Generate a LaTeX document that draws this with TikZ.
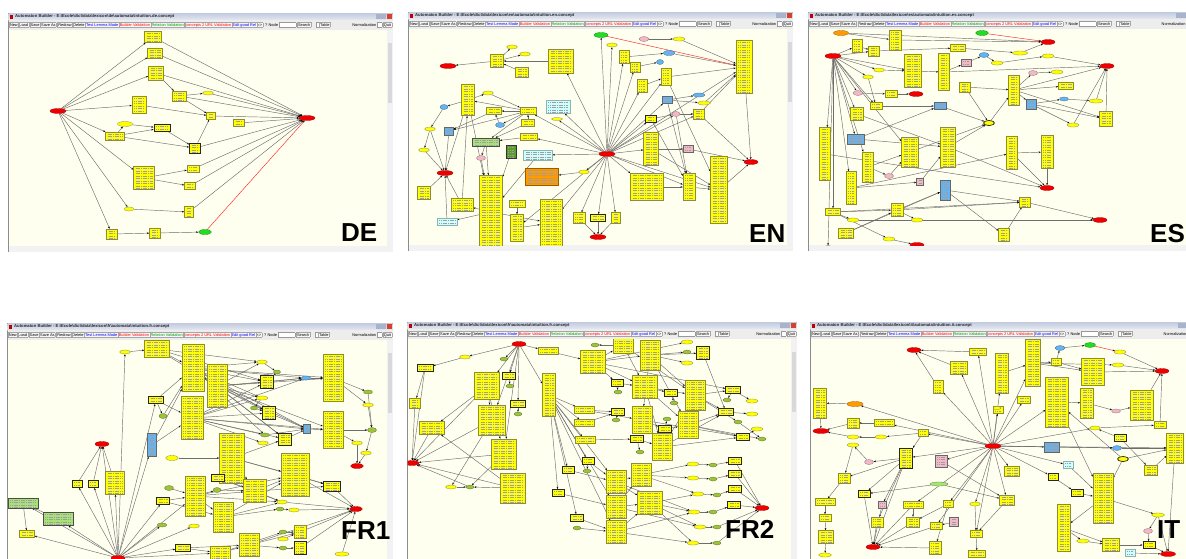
\documentclass[tikz,border=0pt]{standalone}
\usepackage{fontspec}
\setmainfont{Liberation Sans}
\newfontfamily\uifont{Liberation Sans}
\usetikzlibrary{shapes.geometric,arrows.meta,calc}
\pgfdeclarelayer{back}
\pgfdeclarelayer{edges}
\pgfsetlayers{back,edges,main}
\setlength\fboxsep{0.6pt}
\setlength\fboxrule{0.2pt}
\definecolor{canvas}{HTML}{FFFFF0}
\definecolor{ybfill}{HTML}{FFFF00}
\definecolor{ybdraw}{HTML}{8C8C3C}
\definecolor{redf}{HTML}{EE0000}
\definecolor{grnf}{HTML}{22DD22}
\definecolor{olf}{HTML}{9DC23B}
\definecolor{bluf}{HTML}{66B3F0}
\definecolor{pnkf}{HTML}{F2B8C6}
\definecolor{orf}{HTML}{FF9A00}
\definecolor{cyf}{HTML}{CCFFFF}
\definecolor{lgf}{HTML}{A8E276}
\definecolor{dgf}{HTML}{5E9C2E}
\definecolor{tbtop}{HTML}{C4CCE0}
\definecolor{tbbot}{HTML}{E4E8F0}
\definecolor{tool}{HTML}{EDEDED}
\definecolor{sbar}{HTML}{F2F2F2}
\definecolor{btnc}{HTML}{A8B4CC}
\definecolor{closec}{HTML}{D8402C}
\definecolor{edgec}{HTML}{6E6E6E}
\newcommand\ttlfont{\uifont\bfseries\fontsize{4.2}{4.5}\selectfont}
\newcommand\tbfont{\uifont\fontsize{3.9}{4.2}\selectfont}
\newcommand\biglab{\uifont\bfseries\fontsize{26}{26}\selectfont}
\newcommand\bs{\textbackslash{}}
\newcommand\tb[1]{\fcolorbox{black!35}{black!3}{\rule[-0.7pt]{0pt}{3.5pt}#1}}
\newcommand\fld[1]{\fcolorbox{black!40}{white}{\rule[-0.7pt]{0pt}{3.5pt}\hspace{#1}}}
\newcommand\rfull{Normalization\,\fld{4pt}\,\tb{Quit}}
\newcommand\rcut{Normalization\,\fld{4pt}\hspace{16pt}}
\tikzset{
  txt/.style={path picture={
    \foreach \k in {0,...,28}{
      \draw[black!38, line width=0.32pt, dash pattern=on 1.3pt off 0.45pt]
        ($(path picture bounding box.north west)+(2pt,-1.8pt-\k*2.5pt)$) --
        ($(path picture bounding box.north east)+(-2pt,-1.8pt-\k*2.5pt)$);
    }}},
  ybox/.style={rectangle, draw=ybdraw, fill=ybfill, line width=0.45pt, inner sep=0pt, txt},
  tbox/.style={ybox, draw=black!85, line width=0.8pt},
  bbox/.style={ybox, fill=bluf, draw=black!60},
  pbox/.style={ybox, fill=pnkf, draw=black!60},
  cbox/.style={ybox, fill=cyf, draw=cyf!70!black, line width=0.3pt},
  gbox/.style={ybox, fill=lgf, draw=black!70, line width=0.6pt},
  dgbox/.style={ybox, fill=dgf, draw=black!80, line width=0.7pt},
  obox/.style={ybox, fill=orf, draw=orf!60!black},
  rel/.style={ellipse, fill=redf, draw=redf!70!black, line width=0.3pt, inner sep=0pt},
  yel/.style={rel, fill=ybfill, draw=ybdraw},
  tyel/.style={yel, draw=black, line width=0.6pt},
  gel/.style={rel, fill=olf, draw=olf!60!black},
  grel/.style={rel, fill=grnf, draw=grnf!60!black},
  bel/.style={rel, fill=bluf, draw=bluf!60!black},
  pel/.style={rel, fill=pnkf, draw=pnkf!60!black},
  oel/.style={rel, fill=orf, draw=orf!60!black},
  lgel/.style={rel, fill=lgf, draw=lgf!60!black},
  ed/.style={draw=edgec, line width=0.45pt, -{Stealth[length=2.3pt,width=1.7pt,black]}},
  redge/.style={ed, draw=red!85},
  biglabel/.style={font=\biglab, anchor=base west, inner sep=0pt, text=black},
}
\newcommand\N[6]{\node[#1,minimum width=#5pt,minimum height=#6pt] (#2) at (#3,#4) {};}
\newcommand\panel[6]{%
  \begin{pgfonlayer}{back}
  \fill[black!45] (#1,#2) rectangle (#3,#4);
  \shade[top color=tbtop, bottom color=tbbot] (#1+0.5,#2+0.5) rectangle (#3-0.5,#2+7);
  \fill[red!75!black] (#1+1.5,#2+1.8) rectangle (#1+5,#2+5.5);
  \node[anchor=west, inner sep=0pt, font=\ttlfont, text=black!85] at (#1+7,#2+3.8) {Automaton Builder - #5};
  \fill[btnc] (#3-17.5,#2+1.2) rectangle (#3-12.5,#2+6.2);
  \fill[btnc] (#3-12,#2+1.2) rectangle (#3-7,#2+6.2);
  \fill[closec] (#3-6.5,#2+1.2) rectangle (#3-1.5,#2+6.2);
  \fill[tool] (#1+0.5,#2+7) rectangle (#3-0.5,#2+17);
  \node[anchor=west, inner sep=0pt, font=\tbfont] at (#1+1,#2+12) {\tb{New}\tb{Load}\hspace{1pt}\tb{Save}\tb{Save As}\hspace{1pt}\tb{Redraw}\tb{Delete}\tb{\color{blue}Test Lemma Mode}\tb{\color{red}Builder Validation}\tb{\color{green!60!black}Relation Validation}\tb{\color{red}concepts 2 URL Validation}\tb{\color{blue}Edit good Rel}\tb{<>}\hspace{2pt}? Node\,\fld{16pt}\hspace{1pt}\tb{Search}\hspace{5pt}\fld{1pt}\,\tb{Table}};
  \node[anchor=east, inner sep=0pt, font=\tbfont] at (#3-1,#2+12) {#6};
  \fill[canvas] (#1+0.5,#2+17) rectangle (#3-6,#4-6);
  \fill[sbar] (#3-6,#2+17) rectangle (#3-0.5,#4-0.5);
  \fill[sbar] (#1+0.5,#4-6) rectangle (#3-0.5,#4-0.5);
  \fill[black!15] (#3-5.5,#2+30) rectangle (#3-1,#2+90);
  \end{pgfonlayer}}
\newcommand\cclip[4]{\clip (#1+0.5,#2+17) rectangle (#3-6,#4-6);}
\begin{document}
\begin{tikzpicture}[x=1pt,y=-1pt]
\useasboundingbox (0,0) rectangle (1186,558);
\clip (0,0) rectangle (1186,558);
\begin{pgfonlayer}{back}\fill[white] (0,0) rectangle (1186,558);\end{pgfonlayer}

%%%%%%%%%%%%%%%% DE
\panel{8}{13}{393}{252}{E:\bs Ecole\bs dict\bs data\bs lexicon\bs de\bs automata\bs intuition.de.concept}{\rfull}
\begin{scope}\cclip{8}{13}{393}{252}
\N{rel}{dL}{58}{111}{16}{5}
\N{rel}{dR}{307}{118}{16}{5}
\N{grel}{dG}{205}{232}{13}{5}
\N{ybox}{d1}{153}{37}{17}{11}
\N{ybox}{d2}{155}{53}{15}{10}
\N{ybox}{d3}{156}{73}{15}{14}
\N{ybox}{d4}{179}{96}{14}{10}
\N{ybox}{d5}{139}{105}{14}{17}
\N{ybox}{d6}{211}{116}{9}{7}
\N{ybox}{d7}{239}{123}{11}{7}
\N{tbox}{d8}{162}{128}{16}{7}
\N{ybox}{d9}{115}{136}{19}{8}
\N{tbox}{d10}{195}{148}{11}{10}
\N{ybox}{d11}{144}{178}{21}{23}
\N{ybox}{d12}{193}{169}{12}{7}
\N{ybox}{d13}{190}{186}{11}{7}
\N{ybox}{d14}{189}{212}{9}{11}
\N{ybox}{d15}{112}{234}{11}{10}
\N{ybox}{d16}{155}{233}{11}{10}
\N{yel}{de1}{208}{93}{11}{4}
\N{yel}{de2}{125}{124}{15}{5}
\N{yel}{de3}{129}{209}{10}{4}
\end{scope}
\begin{pgfonlayer}{edges}\begin{scope}\cclip{8}{13}{393}{252}
\foreach \a/\b in {dL/d1,dL/d2,dL/d3,dL/d5,dL/d9,dL/d11,dL/de3,dL/d15,d1/dR,d2/dR,d3/dR,d4/dR,de1/dR,d6/dR,d7/dR,d10/dR,d12/dR,d13/dR,d14/dR,d3/d4,d4/de1,d4/d6,d5/d6,d9/de2,de2/d8,d9/d8,d9/d10,d8/d10,d10/d6,d11/d12,d11/d13,de3/d14,d15/d16,d16/dG}
  \draw[ed] (\a) -- (\b);
\draw[redge] (dG) -- (dR);
\end{scope}\end{pgfonlayer}
\node[biglabel] (labDE) at (341,241) {DE};

%%%%%%%%%%%%%%%% EN
\panel{408}{12}{793}{251}{E:\bs Ecole\bs dict\bs data\bs lexicon\bs en\bs automata\bs intuition.en.concept}{\rfull}
\begin{scope}\cclip{408}{12}{793}{251}
\N{rel}{nC}{607}{154}{16}{5}
\N{grel}{nG}{601}{35}{14}{5}
\N{rel}{nRL}{448}{66}{16}{5}
\N{rel}{nRM}{445}{173}{16}{5}
\N{rel}{nRB}{598}{237}{16}{5}
\N{rel}{nRR}{751}{162}{14}{5}
\N{ybox}{n1}{561}{61}{25}{24}
\N{ybox}{n2}{497}{61}{13}{13}
\N{ybox}{n3}{522}{72}{13}{10}
\N{yel}{ne1}{512}{47}{11}{4}
\N{yel}{ne2}{525}{54}{11}{4}
\N{ybox}{n4}{468}{100}{13}{31}
\N{yel}{ne3}{488}{93}{11}{4}
\N{bel}{ne4}{444}{107}{8}{5}
\N{yel}{ne5}{430}{129}{11}{4}
\N{bbox}{n5}{449}{131}{9}{8}
\N{yel}{ne6}{424}{150}{11}{4}
\N{ybox}{n6}{494}{111}{15}{7}
\N{ybox}{n7}{528}{111}{16}{7}
\N{ybox}{n8}{528}{123}{13}{7}
\N{bel}{ne7}{500}{125}{9}{5}
\N{cbox}{n9}{558}{107}{24}{13}
\N{yel}{ne8}{557}{119}{11}{3}
\N{gbox}{n10}{486}{142}{27}{8}
\N{dgbox}{n11}{511}{152}{10}{13}
\N{ybox}{n12}{529}{137}{17}{7}
\N{pel}{ne9}{481}{158}{9}{5}
\N{cbox}{n13}{538}{155}{29}{10}
\N{obox}{n14}{542}{177}{33}{17}
\N{yel}{ne10}{584}{172}{11}{4}
\N{ybox}{n15}{491}{212}{23}{73}
\N{ybox}{n16}{424}{193}{13}{13}
\N{ybox}{n17}{462}{205}{22}{13}
\N{cbox}{n18}{447}{222}{20}{7}
\N{ybox}{n19}{517}{204}{16}{7}
\N{ybox}{n20}{517}{228}{13}{27}
\N{ybox}{n21}{551}{223}{22}{47}
\N{ybox}{n22}{579}{218}{12}{11}
\N{tbox}{n23}{598}{218}{15}{7}
\N{ybox}{n24}{616}{218}{9}{11}
\N{ybox}{n25}{624}{57}{10}{13}
\N{yel}{ne11}{612}{45}{11}{4}
\N{ybox}{n26}{635}{67}{10}{10}
\N{bel}{ne12}{669}{53}{12}{5}
\N{bel}{ne13}{660}{62}{7}{5}
\N{pel}{ne14}{644}{39}{10}{5}
\N{yel}{ne15}{679}{39}{12}{4}
\N{ybox}{n27}{744}{67}{16}{53}
\N{ybox}{n28}{642}{86}{10}{13}
\N{ybox}{n29}{666}{77}{10}{17}
\N{bbox}{n30}{667}{100}{10}{7}
\N{bel}{ne16}{699}{95}{12}{4}
\N{yel}{ne17}{704}{103}{13}{4}
\N{ybox}{n31}{699}{114}{11}{10}
\N{pel}{ne18}{676}{114}{8}{5}
\N{tbox}{n32}{651}{119}{11}{7}
\N{ybox}{n33}{651}{149}{15}{33}
\N{pbox}{n34}{688}{149}{10}{7}
\N{ybox}{n35}{647}{187}{33}{27}
\N{ybox}{n36}{689}{187}{12}{27}
\N{ybox}{n37}{719}{190}{17}{67}
\end{scope}
\begin{pgfonlayer}{edges}\begin{scope}\cclip{408}{12}{793}{251}
\foreach \a/\b in {nC/n1,nC/ne11,nC/n25,nC/n26,nC/n28,nC/n29,nC/n30,nC/n32,nC/n33,nC/n35,nC/n36,nC/n37,nC/n22,nC/n23,nC/n24,nC/n21,nC/ne10,nC/n13,nC/n12,nC/n7,nC/ne8,nC/n9,nC/n20,nC/ne18,nC/n31,nC/n27,nC/nG,
ne14/ne15,ne15/n27,n25/ne12,n26/ne13,n28/n29,n29/n27,n30/ne16,n30/ne17,ne17/n27,n31/n27,ne18/n31,n32/ne18,n33/n34,n35/n36,n36/n37,n37/nRR,n31/nRR,ne18/n36,n32/n36,n27/nRR,n33/n37,n29/n37,n30/n36,ne12/n27,n34/nRR,
n1/n2,n2/nRL,n2/ne1,n2/ne2,n3/n2,n4/ne4,ne4/ne5,ne5/ne6,ne6/nRM,ne5/nRM,n5/nRM,n4/nRM,n4/ne3,ne3/n7,n7/n6,n7/n10,n8/n10,n7/n4,n12/n10,n10/n15,n11/n15,ne9/n15,n13/n15,n10/ne9,n16/nRM,n17/nRM,n18/nRM,n15/n18,n15/n17,n19/n20,n15/n21,n20/n21,ne10/n14,n22/nRB,n23/nRB,n24/nRB,ne7/n6,n6/n5,n7/n5,n7/ne7,n8/n7,n4/n15,n17/n4}
  \draw[ed] (\a) -- (\b);
\draw[redge] (nG) -- (n27);
\end{scope}\end{pgfonlayer}
\node[biglabel] (labEN) at (749,242) {EN};

%%%%%%%%%%%%%%%% ES
\panel{808}{12}{1193}{251}{E:\bs Ecole\bs dict\bs data\bs lexicon\bs es\bs automata\bs intuition.es.concept}{\rcut}
\begin{scope}\cclip{808}{12}{1193}{251}
\N{oel}{sO}{841}{33}{15}{5}
\N{rel}{sS}{833}{56}{16}{5}
\N{grel}{sG}{982}{33}{13}{5}
\N{rel}{sR1}{1048}{42}{14}{5}
\N{rel}{sR2}{1107}{66}{14}{5}
\N{rel}{sR3}{916}{94}{14}{5}
\N{rel}{sR4}{1047}{188}{14}{5}
\N{rel}{sR5}{1100}{220}{14}{5}
\N{rel}{sR6}{917}{245}{14}{5}
\N{ybox}{s1}{895}{40}{12}{20}
\N{ybox}{s2}{857}{46}{10}{13}
\N{ybox}{s3}{874}{51}{11}{10}
\N{ybox}{s4}{958}{48}{15}{7}
\N{ybox}{s5}{913}{71}{17}{33}
\N{ybox}{s6}{944}{72}{11}{37}
\N{pbox}{s7}{966}{63}{10}{7}
\N{ybox}{s8}{965}{87}{11}{10}
\N{ybox}{s9}{1014}{90}{11}{30}
\N{bbox}{s10}{1031}{104}{10}{10}
\N{ybox}{s11}{1066}{86}{15}{7}
\N{ybox}{s12}{1106}{119}{13}{15}
\N{ybox}{s13}{891}{94}{12}{7}
\N{ybox}{s14}{876}{106}{12}{7}
\N{ybox}{s15}{857}{114}{13}{13}
\N{bbox}{s16}{940}{106}{12}{7}
\N{bbox}{s17}{856}{139}{17}{10}
\N{ybox}{s18}{825}{154}{11}{53}
\N{ybox}{s19}{868}{167}{11}{30}
\N{ybox}{s20}{910}{152}{17}{30}
\N{ybox}{s21}{948}{147}{15}{40}
\N{ybox}{s22}{1012}{153}{11}{33}
\N{ybox}{s23}{1047}{152}{12}{33}
\N{ybox}{s24}{851}{188}{10}{33}
\N{pbox}{s25}{920}{182}{7}{7}
\N{bbox}{s26}{945}{190}{10}{20}
\N{ybox}{s27}{833}{212}{15}{7}
\N{ybox}{s28}{897}{210}{12}{13}
\N{ybox}{s29}{1025}{202}{11}{10}
\N{ybox}{s30}{1004}{235}{11}{13}
\N{ybox}{s31}{846}{233}{15}{10}
\N{yel}{se1}{879}{70}{11}{4}
\N{yel}{se2}{868}{77}{11}{4}
\N{pel}{se3}{858}{93}{10}{5}
\N{bel}{se4}{984}{55}{10}{5}
\N{yel}{se5}{997}{63}{12}{4}
\N{yel}{se6}{1020}{53}{15}{4}
\N{yel}{se7}{1048}{56}{12}{4}
\N{pel}{se8}{1033}{73}{9}{5}
\N{yel}{se9}{1057}{72}{12}{4}
\N{bel}{se10}{1064}{99}{9}{4}
\N{yel}{se11}{1096}{101}{14}{4}
\N{tyel}{se12}{989}{123}{11}{5}
\N{yel}{se13}{1073}{125}{12}{4}
\N{pel}{se14}{889}{176}{9}{5}
\N{yel}{se15}{853}{220}{12}{4}
\N{yel}{se16}{917}{220}{12}{4}
\N{yel}{se17}{889}{239}{12}{4}
\N{pel}{se18}{828}{248}{9}{5}
\end{scope}
\begin{pgfonlayer}{edges}\begin{scope}\cclip{808}{12}{1193}{251}
\foreach \a/\b in {sS/s2,sS/s3,sS/se1,sS/se2,sS/se3,sS/s5,sS/s14,sS/s15,sS/s17,sS/s18,sS/s19,sS/s24,sS/s27,sS/s20,sS/se18,sO/sR1,sO/s1,s1/sR1,s3/s4,s4/se6,se6/sR1,s5/s6,s6/s7,s7/se4,se4/se5,se5/se7,se7/sR2,s6/sR2,s9/sR2,s8/s9,s9/se8,se8/se9,s9/s11,s9/s10,s10/se10,se10/se11,se11/sR2,s12/sR2,s10/s12,s10/se13,se13/sR2,s9/s12,se1/s5,se2/s14,se3/s13,s13/sR3,s14/s16,s16/se12,s20/se12,se12/s9,s8/se12,s17/s16,s17/s21,s21/se12,s15/s21,s21/sR4,s19/s20,s19/se14,se14/s20,s22/s23,s23/sR4,s22/sR4,s24/s22,s18/sR4,s26/s29,s26/s30,s27/s28,s27/s29,s28/s29,s28/s26,s27/se15,se15/sR5,s29/sR5,s30/s29,s31/s26,s28/se16,se16/sR5,se17/sR6,s27/se17,s31/s28,s2/s3,s24/s25,s25/s21}
  \draw[ed] (\a) -- (\b);
\draw[redge] (sG) -- (sR1);
\end{scope}\end{pgfonlayer}
\node[biglabel] (labES) at (1150,242) {ES};

%%%%%%%%%%%%%%%% FR1
\panel{7}{323}{393}{565}{E:\bs Ecole\bs dict\bs data\bs lexicon\bs fr\bs automata\bs intuition.fr.concept}{\rfull}
\begin{scope}\cclip{7}{323}{393}{565}
\N{rel}{fR1}{102}{444}{14}{5}
\N{rel}{fR2}{357}{466}{13}{5}
\N{rel}{fR3}{356}{509}{13}{5}
\N{rel}{fR4}{118}{558}{14}{5}
\N{yel}{fe0}{125}{352}{11}{4}
\N{ybox}{f1}{157}{349}{25}{17}
\N{ybox}{f2}{193}{368}{22}{47}
\N{ybox}{f3}{217}{386}{20}{43}
\N{ybox}{f4}{192}{418}{22}{43}
\N{tbox}{f5}{156}{400}{15}{7}
\N{tbox}{f6}{267}{382}{13}{13}
\N{tbox}{f7}{269}{413}{13}{13}
\N{bbox}{f8}{307}{429}{7}{9}
\N{ybox}{f9}{333}{378}{20}{47}
\N{ybox}{f10}{333}{430}{20}{37}
\N{bbox}{f11}{152}{445}{9}{23}
\N{ybox}{f12}{232}{458}{25}{50}
\N{ybox}{f13}{295}{475}{28}{43}
\N{tbox}{f14}{285}{439}{13}{12}
\N{ybox}{f15}{195}{496}{20}{40}
\N{tbox}{f16}{218}{478}{13}{7}
\N{ybox}{f17}{255}{491}{23}{23}
\N{ybox}{f18}{223}{517}{20}{30}
\N{ybox}{f19}{115}{483}{19}{23}
\N{tbox}{f20}{77}{484}{10}{7}
\N{tbox}{f21}{93}{484}{10}{7}
\N{tbox}{f22}{163}{501}{13}{7}
\N{tbox}{f23}{332}{486}{17}{10}
\N{gbox}{f24}{23}{503}{30}{10}
\N{gbox}{f25}{58}{519}{30}{13}
\N{ybox}{f26}{27}{534}{15}{7}
\N{tbox}{f27}{183}{548}{15}{7}
\N{ybox}{f28}{220}{553}{20}{13}
\N{ybox}{f29}{249}{545}{20}{23}
\N{ybox}{f30}{300}{532}{12}{13}
\N{tbox}{f31}{300}{548}{12}{13}
\N{yel}{fe1}{262}{362}{11}{4}
\N{gel}{fe2}{277}{372}{7}{4}
\N{bel}{fe3}{306}{378}{10}{4}
\N{gel}{fe4}{163}{416}{8}{5}
\N{yel}{fe5}{262}{398}{12}{4}
\N{gel}{fe6}{254}{408}{7}{4}
\N{gel}{fe7}{265}{435}{9}{4}
\N{yel}{fe8}{263}{443}{11}{4}
\N{gel}{fe9}{368}{392}{9}{4}
\N{yel}{fe10}{368}{405}{11}{4}
\N{gel}{fe11}{372}{430}{9}{5}
\N{yel}{fe12}{357}{443}{11}{4}
\N{yel}{fe13}{366}{453}{11}{4}
\N{yel}{fe14}{172}{458}{13}{5}
\N{gel}{fe15}{169}{488}{9}{5}
\N{gel}{fe16}{217}{490}{8}{5}
\N{yel}{fe17}{282}{502}{11}{4}
\N{gel}{fe18}{280}{509}{8}{4}
\N{yel}{fe19}{294}{510}{11}{4}
\N{gel}{fe20}{162}{525}{10}{4}
\N{yel}{fe21}{194}{526}{11}{4}
\N{gel}{fe22}{283}{532}{8}{4}
\N{yel}{fe23}{283}{539}{11}{4}
\N{gel}{fe24}{283}{548}{8}{4}
\N{yel}{fe25}{342}{554}{14}{4}
\end{scope}
\begin{pgfonlayer}{edges}\begin{scope}\cclip{7}{323}{393}{565}
\foreach \a/\b in {fR4/fe0,fR4/f19,fR4/f11,fR4/f5,fR4/f20,fR4/f21,fR4/f22,fR4/fe20,fR4/fe21,fR4/f27,fR4/f25,fR4/f26,fR4/fR1,fR4/f15,fR4/f28,fR4/f24,f20/fR1,f21/fR1,f19/fR1,fe0/f1,f1/f2,f1/f3,f2/fe1,f2/f6,f2/fe5,f2/f7,f3/f6,f3/f7,f3/fe3,f4/f7,f4/f14,f4/fe7,f4/fe8,f4/f8,f5/f2,f5/f4,f5/fe4,fe4/f2,f11/f4,f11/f2,f6/fe3,fe1/fe2,fe2/f6,fe5/fe6,fe6/f7,fe3/f9,f9/fe9,f9/fe10,fe9/fe11,fe10/fe11,f10/fe11,f10/fe12,fe12/fR2,fe13/fR2,fe11/fe13,f8/f10,f14/f8,fe7/f8,f7/f8,fe14/f12,f12/f16,f12/f17,f13/fR3,f23/fR3,f15/fe16,fe16/f17,f16/f17,f17/f13,fe15/f15,f22/f15,f15/f18,f18/fe18,fe18/fe19,fe19/fR3,f17/fe17,fe17/fR3,f29/fR3,f30/fR3,f31/fR3,fe22/f30,fe23/f30,fe24/f31,f28/f29,f27/f28,fe25/fR3,f24/f26,f25/f24,f13/f23,f2/f8,f3/f8,f2/f14,f4/fe5,f15/f13,f18/fe17,f2/f9,f3/f9,f2/fe3,f3/fe1,f3/fe5,f4/fe3,f4/f6,f2/fe7,f3/f14,f12/f23,f12/f13,f15/f17,f18/f13,f15/fe17,f22/f18,f1/fe1,f1/f6,f3/f10,f4/f10,f12/f14,f16/fe17,f17/f23,f28/fe22,f29/f30,f29/fe24,f27/f29}
  \draw[ed] (\a) -- (\b);
\end{scope}\end{pgfonlayer}
\node[biglabel] (labFRa) at (341,539) {FR1};

%%%%%%%%%%%%%%%% FR2
\panel{407}{322}{797}{565}{E:\bs Ecole\bs dict\bs data\bs lexicon\bs fr\bs automata\bs intuition.fr.concept}{\rfull}
\begin{scope}\cclip{407}{322}{797}{565}
\N{rel}{rR1}{519}{344}{14}{5}
\N{rel}{rR2}{412}{463}{14}{5}
\N{rel}{rR3}{762}{508}{14}{5}
\N{tbox}{r1}{425}{368}{16}{7}
\N{tbox}{r2}{509}{376}{13}{7}
\N{ybox}{r3}{487}{386}{25}{27}
\N{ybox}{r4}{415}{403}{11}{10}
\N{ybox}{r5}{492}{420}{27}{30}
\N{tbox}{r6}{518}{404}{15}{7}
\N{ybox}{r7}{432}{428}{25}{13}
\N{ybox}{r8}{504}{454}{25}{30}
\N{ybox}{r9}{513}{488}{25}{30}
\N{ybox}{r10}{549}{395}{13}{43}
\N{ybox}{r11}{548}{351}{20}{7}
\N{ybox}{r12}{593}{362}{25}{23}
\N{ybox}{r13}{623}{345}{20}{17}
\N{ybox}{r14}{650}{355}{20}{30}
\N{tbox}{r15}{703}{353}{13}{13}
\N{tbox}{r16}{617}{383}{12}{7}
\N{ybox}{r17}{645}{387}{25}{23}
\N{tbox}{r18}{671}{393}{13}{7}
\N{ybox}{r19}{695}{395}{20}{30}
\N{tbox}{r20}{733}{390}{15}{7}
\N{ybox}{r21}{584}{410}{20}{7}
\N{tbox}{r22}{618}{412}{13}{7}
\N{ybox}{r23}{642}{420}{20}{27}
\N{tbox}{r24}{665}{429}{13}{7}
\N{ybox}{r25}{688}{425}{20}{27}
\N{tbox}{r26}{726}{412}{15}{7}
\N{ybox}{r27}{584}{423}{20}{7}
\N{ybox}{r28}{585}{440}{20}{7}
\N{tbox}{r29}{637}{439}{13}{7}
\N{ybox}{r30}{662}{447}{20}{27}
\N{tbox}{r31}{743}{437}{13}{7}
\N{tbox}{r32}{588}{461}{12}{7}
\N{tbox}{r33}{568}{470}{12}{7}
\N{ybox}{r34}{616}{482}{20}{23}
\N{ybox}{r35}{641}{475}{20}{23}
\N{tbox}{r36}{558}{493}{12}{7}
\N{ybox}{r37}{616}{507}{20}{23}
\N{ybox}{r38}{650}{503}{25}{23}
\N{ybox}{r39}{616}{532}{20}{23}
\N{tbox}{r40}{577}{518}{13}{7}
\N{tbox}{r41}{735}{461}{13}{7}
\N{tbox}{r42}{735}{474}{13}{7}
\N{tbox}{r43}{735}{489}{13}{7}
\N{tbox}{r44}{734}{505}{13}{7}
\N{yel}{re1}{465}{357}{11}{4}
\N{gel}{re2}{504}{359}{8}{4}
\N{gel}{re3}{510}{386}{8}{4}
\N{gel}{re4}{518}{414}{8}{4}
\N{yel}{re5}{451}{487}{11}{4}
\N{gel}{re6}{470}{487}{8}{4}
\N{gel}{re7}{595}{345}{8}{4}
\N{yel}{re8}{687}{342}{12}{4}
\N{gel}{re9}{687}{352}{8}{4}
\N{yel}{re10}{687}{363}{12}{4}
\N{gel}{re11}{618}{392}{8}{4}
\N{gel}{re12}{674}{403}{8}{4}
\N{gel}{re13}{727}{400}{8}{4}
\N{yel}{re14}{752}{401}{12}{4}
\N{yel}{re15}{752}{414}{12}{4}
\N{gel}{re16}{738}{422}{8}{4}
\N{yel}{re17}{757}{429}{12}{4}
\N{gel}{re18}{762}{439}{8}{4}
\N{gel}{re19}{667}{419}{8}{4}
\N{gel}{re20}{616}{420}{8}{4}
\N{gel}{re21}{640}{452}{8}{4}
\N{gel}{re22}{587}{471}{8}{4}
\N{yel}{re23}{693}{464}{12}{4}
\N{gel}{re24}{713}{465}{8}{4}
\N{yel}{re25}{693}{478}{12}{4}
\N{gel}{re26}{713}{479}{8}{4}
\N{yel}{re27}{698}{494}{12}{4}
\N{gel}{re28}{717}{495}{8}{4}
\N{yel}{re29}{694}{512}{12}{4}
\N{gel}{re30}{713}{512}{8}{4}
\N{yel}{re31}{700}{527}{12}{4}
\N{gel}{re32}{717}{527}{8}{4}
\N{yel}{re33}{693}{543}{12}{4}
\N{gel}{re34}{717}{543}{8}{4}
\N{gel}{re35}{577}{528}{8}{4}
\end{scope}
\begin{pgfonlayer}{edges}\begin{scope}\cclip{407}{322}{797}{565}
\foreach \a/\b in {rR1/re1,rR1/re2,rR1/r2,rR1/r6,rR1/r10,rR1/r11,rR1/r3,rR1/r5,re1/r1,r1/r4,r3/r7,r3/r5,r2/re3,r6/re4,r5/rR2,r4/rR2,r7/rR2,r8/rR2,r9/re6,re5/re6,re6/rR2,r8/re6,r9/r7,r10/r21,r10/r27,r10/r28,r10/r32,r10/r33,r10/r36,r10/r40,r11/r12,r12/r13,r12/r14,r12/re8,r13/re7,r14/r15,r14/re9,r14/re10,r16/r17,r17/r18,r17/r19,r19/r20,r20/re14,r21/r22,r21/r23,r23/r24,r24/r25,r25/r26,r26/re15,r27/r22,r28/r29,r29/r30,r30/r31,r31/re17,re16/re18,r32/r34,r33/r34,r34/r35,r35/re23,r35/re25,re23/re24,re25/re26,re24/r41,re26/r42,r36/r37,r37/r38,r38/re27,r38/re29,r38/re31,r38/re33,re27/re28,re28/r43,re29/re30,re30/r44,r44/rR3,r43/rR3,r42/rR3,r41/rR3,re32/rR3,re34/rR3,r39/r38,r40/r39,re35/r39,re31/re32,re33/re34,r12/r17,r14/r23,r19/r30,r17/r25,r13/r19,r16/re11,r18/re12,r20/re13,r24/re19,r22/re20,r29/re21,r32/re22,r19/re16,r25/re18,r23/r30,r12/r16,r15/r26,r37/r35,r34/r38,r39/re33,r9/rR2,r3/rR2,r3/r8,rR1/r8,r10/r34,r10/r37,r10/r39,r12/r20,r14/r19,r13/r17,r19/r26,r23/r31,r25/r31,r30/r26,r35/re27,r34/re29,r37/re31,r39/re29,r14/r25,r17/r30,r1/rR2,r5/re5}
  \draw[ed] (\a) -- (\b);
\end{scope}\end{pgfonlayer}
\node[biglabel] (labFRb) at (725,538) {FR2};

%%%%%%%%%%%%%%%% IT
\panel{810}{322}{1195}{565}{E:\bs Ecole\bs dict\bs data\bs lexicon\bs it\bs automata\bs intuition.it.concept}{\rcut}
\begin{scope}\cclip{810}{322}{1195}{565}
\N{rel}{tC}{993}{446}{16}{5}
\N{rel}{tR1}{914}{350}{14}{5}
\N{rel}{tR2}{1162}{371}{14}{5}
\N{rel}{tR3}{821}{431}{16}{5}
\N{rel}{tR4}{873}{547}{14}{5}
\N{rel}{tR5}{1168}{554}{15}{5}
\N{grel}{tG}{1090}{345}{11}{5}
\N{oel}{tO}{855}{404}{16}{5}
\N{ybox}{t1}{978}{352}{17}{7}
\N{ybox}{t2}{959}{368}{17}{13}
\N{ybox}{t3}{938}{387}{10}{13}
\N{ybox}{t4}{1002}{373}{13}{40}
\N{ybox}{t5}{1033}{363}{15}{47}
\N{ybox}{t6}{1056}{362}{10}{7}
\N{ybox}{t7}{1093}{372}{23}{27}
\N{ybox}{t8}{1057}{402}{23}{50}
\N{ybox}{t9}{1087}{403}{13}{30}
\N{ybox}{t10}{1142}{405}{23}{30}
\N{ybox}{t11}{1024}{400}{13}{7}
\N{ybox}{t12}{998}{410}{10}{7}
\N{ybox}{t13}{820}{403}{13}{30}
\N{ybox}{t14}{853}{423}{12}{10}
\N{ybox}{t15}{884}{423}{20}{7}
\N{ybox}{t16}{923}{433}{10}{7}
\N{tbox}{t17}{906}{458}{13}{20}
\N{pbox}{t18}{941}{461}{12}{12}
\N{bbox}{t19}{1052}{447}{15}{10}
\N{ybox}{t20}{1160}{425}{12}{7}
\N{ybox}{t21}{1175}{448}{17}{30}
\N{ybox}{t22}{1151}{470}{13}{10}
\N{tbox}{t23}{1120}{438}{12}{7}
\N{cbox}{t24}{1068}{465}{10}{7}
\N{ybox}{t25}{1012}{471}{15}{10}
\N{ybox}{t26}{844}{478}{12}{10}
\N{tbox}{t27}{864}{494}{12}{7}
\N{pbox}{t28}{882}{505}{8}{7}
\N{ybox}{t29}{825}{502}{20}{7}
\N{ybox}{t30}{825}{518}{12}{7}
\N{ybox}{t31}{826}{537}{15}{13}
\N{ybox}{t32}{877}{522}{12}{10}
\N{ybox}{t33}{913}{505}{20}{7}
\N{ybox}{t34}{913}{522}{13}{10}
\N{ybox}{t35}{948}{504}{10}{7}
\N{ybox}{t36}{936}{526}{12}{7}
\N{pbox}{t37}{954}{522}{9}{9}
\N{ybox}{t38}{1007}{500}{15}{10}
\N{tbox}{t39}{1053}{477}{10}{7}
\N{tbox}{t40}{1077}{493}{12}{7}
\N{ybox}{t41}{1103}{498}{20}{50}
\N{ybox}{t42}{1064}{528}{13}{47}
\N{ybox}{t43}{976}{534}{12}{7}
\N{ybox}{t44}{935}{548}{12}{13}
\N{ybox}{t45}{977}{554}{17}{7}
\N{ybox}{t46}{1111}{545}{17}{13}
\N{tbox}{t47}{1149}{545}{12}{7}
\N{cbox}{t48}{1130}{553}{10}{7}
\N{bel}{te1}{1060}{348}{10}{5}
\N{yel}{te2}{1120}{352}{12}{4}
\N{yel}{te3}{1118}{365}{12}{4}
\N{yel}{te4}{997}{408}{8}{3}
\N{pel}{te5}{1116}{411}{9}{4}
\N{yel}{te6}{1095}{428}{11}{4}
\N{yel}{te7}{881}{437}{12}{4}
\N{yel}{te8}{853}{437}{12}{4}
\N{yel}{te9}{853}{445}{12}{4}
\N{pel}{te10}{869}{462}{9}{5}
\N{bel}{te11}{1117}{448}{9}{5}
\N{tyel}{te12}{1123}{459}{11}{5}
\N{lgel}{te13}{939}{484}{18}{4}
\N{yel}{te14}{975}{504}{11}{4}
\N{yel}{te15}{1083}{541}{13}{4}
\N{yel}{te16}{1158}{515}{13}{4}
\N{pel}{te17}{1148}{531}{9}{5}
\N{yel}{te18}{825}{555}{13}{4}
\end{scope}
\begin{pgfonlayer}{edges}\begin{scope}\cclip{810}{322}{1195}{565}
\foreach \a/\b in {tC/t1,tC/t2,tC/t3,tC/t4,tC/t12,tC/t11,tC/t5,tC/t8,tC/te6,tC/t19,tC/t24,tC/t39,tC/t25,tC/t38,tC/te14,tC/t35,tC/t36,tC/t16,tC/t17,tC/t18,tC/t15,tC/tO,tC/t21,tC/te11,tC/t43,tC/t33,t1/tR1,t2/tR1,t3/tR1,tO/t13,t13/tR3,t14/tR3,t15/t14,te8/tR3,te7/te8,t16/te7,t17/te10,t17/t26,t17/t27,t17/t28,t17/tR4,t17/t32,t26/t29,t29/t30,t30/t31,te9/t26,te10/te9,t31/te18,t27/tR4,t28/tR4,t32/tR4,t33/t34,t34/tR4,t35/t34,t36/tR4,t37/t36,te13/t27,te13/t38,t18/t38,t38/t43,t43/t45,te14/t43,t44/tR4,t4/t5,t5/t6,t6/te1,te1/tG,te2/tR2,te3/tR2,t7/tR2,t6/t7,t5/t7,t8/t9,t9/te5,te5/t10,te6/t20,t12/te4,t19/te11,te11/t21,te12/t21,te12/t8,te12/t41,t41/te16,t42/t46,t46/t47,t47/tR5,te17/t47,te16/te17,t21/tR5,te16/tR5,t20/tR2,t23/t22,t24/t41,t39/t40,t40/t41,te15/t46,t42/te15,t48/tR5,t23/te6,t5/te3,t10/tR2,t22/t21,t41/t42,t33/tR4,t16/t17,t35/t44,t8/t41}
  \draw[ed] (\a) -- (\b);
\draw[redge] (tG) -- (te2);
\end{scope}\end{pgfonlayer}
\node[biglabel] (labIT) at (1157,538) {IT};
\end{tikzpicture}
\end{document}
